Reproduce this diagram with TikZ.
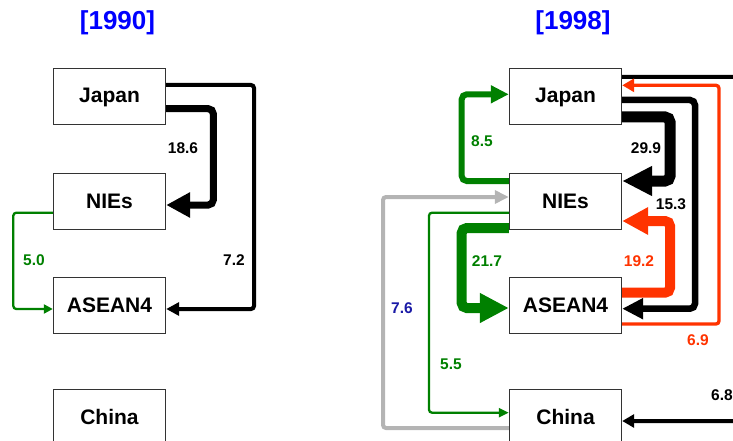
\documentclass[tikz,border=0pt]{standalone}
\usepackage{fontspec}
\setmainfont{Liberation Sans}
\usetikzlibrary{arrows.meta}
\definecolor{ttl}{RGB}{0,0,255}
\definecolor{grn}{RGB}{0,128,0}
\definecolor{redo}{RGB}{255,51,0}
\definecolor{navy}{RGB}{26,26,166}
\definecolor{gry}{RGB}{180,180,180}
\tikzset{
  box/.style={draw=black!80, line width=1pt, fill=white, minimum width=112.4pt, minimum height=56pt, inner sep=0pt, font=\fontsize{21}{24}\selectfont\bfseries},
  title/.style={font=\fontsize{26}{30}\selectfont\bfseries, text=ttl, inner sep=0pt},
  val/.style={font=\fontsize{15.5}{18}\selectfont\bfseries, inner sep=0pt},
  flow/.style={rounded corners=3pt},
  flowT/.style={rounded corners=5pt},
}
\begin{document}
\begin{tikzpicture}[x=1pt,y=-1pt]
\clip (0,0) rectangle (733,441);
% titles
\node[title] (t1) at (117.5,23) {[1990]};
\node[title] (t2) at (573,23) {[1998]};
% 1990 boxes
\node[box] (jpA) at (109.5,97) {Japan};
\node[box] (niA) at (109.5,201) {NIEs};
\node[box] (asA) at (109.5,305) {ASEAN4};
\node[box] (chA) at (109.5,417) {China};
% 1998 boxes
\node[box] (jpB) at (565.5,97) {Japan};
\node[box] (niB) at (565.5,201) {NIEs};
\node[box] (asB) at (565.5,305) {ASEAN4};
\node[box] (chB) at (565.5,417) {China};

% ---- 1990 flows
\draw[flowT, line width=7pt, -{Triangle[length=24pt,width=24pt]}]
  ([yshift=-11.7pt]jpA.east) -| (213.3,150) |- ([yshift=-4pt]niA.east);
\draw[flow, line width=4pt, -{Triangle[length=13pt,width=13pt]}]
  ([yshift=12pt]jpA.east) -| (254,200) |- ([yshift=-4pt]asA.east);
\draw[flow, grn, line width=2.3pt, -{Triangle[length=9pt,width=9pt]}]
  ([yshift=-11.7pt]niA.west) -| (13.3,260) |- ([yshift=-4pt]asA.west);
\node[val] (l186) at (183,148) {18.6};
\node[val] (l72) at (234,260) {7.2};
\node[val, text=grn] (l50) at (34,260) {5.0};

% ---- 1998 flows
% Japan -> China (goes off the picture)
\draw[flow, line width=4pt, -{Triangle[length=12pt,width=13pt]}]
  ([yshift=20pt]jpB.east) -| (760,250) |- ([yshift=-4pt]chB.east);
% ASEAN4 -> Japan (thin red)
\draw[flow, redo, line width=3.3pt, -{Triangle[length=12pt,width=13pt]}]
  ([yshift=-19pt]asB.east) -| (719,200) |- ([yshift=11.7pt]jpB.east);
% Japan -> ASEAN4 (medium black)
\draw[flowT, line width=6.5pt, -{Triangle[length=21pt,width=20pt]}]
  ([yshift=-3pt]jpB.east) -| (695,200) |- ([yshift=-3.7pt]asB.east);
% Japan -> NIEs (thick black)
\draw[flowT, line width=11pt, -{Triangle[length=30pt,width=28pt]}]
  ([yshift=-20pt]jpB.east) -| (670,150) |- ([yshift=20pt]niB.east);
% ASEAN4 -> NIEs (thick red)
\draw[flowT, redo, line width=10pt, -{Triangle[length=26pt,width=26pt]}]
  ([yshift=12.3pt]asB.east) -| (670,260) |- ([yshift=-20pt]niB.east);
% NIEs -> Japan (green medium)
\draw[flowT, grn, line width=6pt, -{Triangle[length=18pt,width=17pt]}]
  ([yshift=20pt]niB.west) -| (461.7,140) |- ([yshift=2.7pt]jpB.west);
% China -> NIEs (gray)
\draw[flow, gry, line width=4pt, -{Triangle[length=14pt,width=13pt]}]
  ([yshift=-11pt]chB.west) -| (383,300) |- ([yshift=4pt]niB.west);
% NIEs -> ASEAN4 (green thick)
\draw[flowT, grn, line width=10pt, -{Triangle[length=29pt,width=28pt]}]
  ([yshift=-27pt]niB.west) -| (461.7,270) |- ([yshift=-3pt]asB.west);
% NIEs -> China (green thin)
\draw[flow, grn, line width=2.3pt, -{Triangle[length=10pt,width=9pt]}]
  ([yshift=-11.7pt]niB.west) -| (429,300) |- ([yshift=4.3pt]chB.west);

\node[val, text=grn] (l85) at (482,141) {8.5};
\node[val] (l299) at (646,148) {29.9};
\node[val] (l153) at (671,204) {15.3};
\node[val, text=grn] (l217) at (487,261) {21.7};
\node[val, text=redo] (l192) at (639,261) {19.2};
\node[val, text=navy] (l76) at (402,308) {7.6};
\node[val, text=redo] (l69) at (698,340) {6.9};
\node[val, text=grn] (l55) at (451,364) {5.5};
\node[val] (l68) at (722,395) {6.8};
\end{tikzpicture}
\end{document}
